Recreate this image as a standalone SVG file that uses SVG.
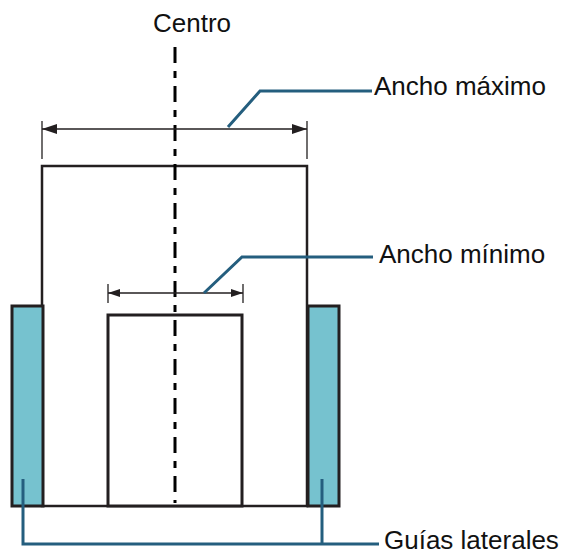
<svg xmlns="http://www.w3.org/2000/svg" width="565" height="556" viewBox="0 0 565 556">
<style>
.lbl{font-family:"Liberation Sans",Arial,sans-serif;font-size:26px;fill:#111}
.shape{fill:#fff;stroke:#231f20;stroke-width:2.5}
.guide{fill:#76c2cf;stroke:#231f20;stroke-width:3}
.dim{stroke:#231f20;stroke-width:1.3;fill:none}
.lead{stroke:#245e7e;stroke-width:3;fill:none}
.center{stroke:#000;stroke-width:3;stroke-dasharray:16 8 7 8;fill:none}
</style>
<defs>
<marker id="ah" viewBox="0 0 15 10" refX="15" refY="5" markerWidth="15" markerHeight="10" markerUnits="userSpaceOnUse" orient="auto-start-reverse">
<path d="M0,0 L15,5 L0,10 Z" fill="#231f20"/>
</marker>
<marker id="ahs" viewBox="0 0 12 8" refX="12" refY="4" markerWidth="12" markerHeight="8" markerUnits="userSpaceOnUse" orient="auto-start-reverse">
<path d="M0,0 L12,4 L0,8 Z" fill="#231f20"/>
</marker>
</defs>
<g id="outer-paper"><rect class="shape" x="42" y="166" width="265" height="340"/></g>
<g id="inner-paper"><rect class="shape" x="108" y="315" width="134" height="191" style="stroke-width:3"/></g>
<g id="guide-left"><rect class="guide" x="12" y="306" width="31" height="200"/></g>
<g id="guide-right"><rect class="guide" x="308" y="306" width="31" height="200"/></g>
<g id="connectors">
<line class="center" x1="175" y1="47" x2="175" y2="503"/>
<line class="dim" x1="42" y1="121" x2="42" y2="159"/>
<line class="dim" x1="307" y1="121" x2="307" y2="159"/>
<line class="dim" x1="42" y1="129" x2="307" y2="129" marker-start="url(#ah)" marker-end="url(#ah)"/>
<line class="dim" x1="108" y1="284" x2="108" y2="303"/>
<line class="dim" x1="243" y1="284" x2="243" y2="303"/>
<line class="dim" x1="108" y1="293" x2="243" y2="293" marker-start="url(#ahs)" marker-end="url(#ahs)"/>
<polyline class="lead" points="228,127 260,91 372,91"/>
<polyline class="lead" points="204,293 242,257 373,257"/>
<polyline class="lead" points="23,479 23,544 379,544"/>
<line class="lead" x1="322" y1="479" x2="322" y2="544"/>
</g>
<g id="label-centro"><text class="lbl" x="192" y="32" text-anchor="middle">Centro</text></g>
<g id="label-max"><text class="lbl" x="374" y="95">Ancho máximo</text></g>
<g id="label-min"><text class="lbl" x="379" y="263">Ancho mínimo</text></g>
<g id="label-guias"><text class="lbl" x="384" y="549">Guías laterales</text></g>
</svg>
